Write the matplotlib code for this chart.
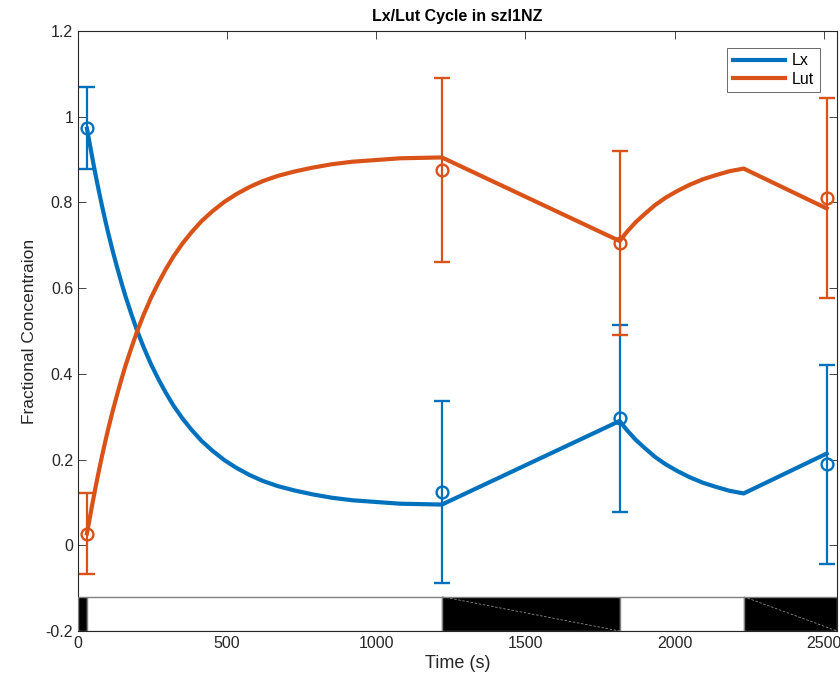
import matplotlib
matplotlib.use('Agg')
import matplotlib.pyplot as plt
from matplotlib.patches import Rectangle

plt.rcParams['font.family'] = ['Liberation Sans', 'DejaVu Sans']
plt.rcParams['axes.unicode_minus'] = False

# model curves (s, fraction)
t_model = [30, 40, 50, 60, 70, 80, 90, 100, 115, 130, 145, 160, 180, 198, 220,
           245, 270, 295, 320, 350, 380, 415, 450, 490, 530, 575, 620, 670, 725,
           785, 850, 920, 1000, 1080, 1150, 1220,
           1816, 1840, 1870, 1900, 1935, 1970, 2010, 2050, 2095, 2140, 2185, 2232,
           2510]
lx_model = [0.972, 0.934, 0.896, 0.860, 0.826, 0.793, 0.762, 0.732, 0.690, 0.651,
            0.614, 0.579, 0.537, 0.501, 0.462, 0.422, 0.387, 0.355, 0.326, 0.296,
            0.270, 0.243, 0.221, 0.199, 0.181, 0.164, 0.150, 0.138, 0.128, 0.119,
            0.111, 0.105, 0.101, 0.097, 0.096, 0.095,
            0.290, 0.269, 0.246, 0.227, 0.206, 0.189, 0.173, 0.159, 0.146, 0.136,
            0.127, 0.121,
            0.214]
lut_model = [0.028, 0.066, 0.104, 0.140, 0.174, 0.207, 0.238, 0.268, 0.310, 0.349,
             0.386, 0.421, 0.463, 0.499, 0.538, 0.578, 0.613, 0.645, 0.674, 0.704,
             0.730, 0.757, 0.779, 0.801, 0.819, 0.836, 0.850, 0.862, 0.872, 0.881,
             0.889, 0.895, 0.899, 0.903, 0.904, 0.905,
             0.710, 0.731, 0.754, 0.773, 0.794, 0.811, 0.827, 0.841, 0.854, 0.864,
             0.873, 0.879,
             0.786]

# measured points with error bars
t_obs = [30, 1220, 1816, 2510]
lx_obs = [0.973, 0.124, 0.296, 0.189]
lx_err = [0.096, 0.213, 0.218, 0.232]
lut_obs = [0.027, 0.875, 0.705, 0.810]
lut_err = [0.095, 0.215, 0.215, 0.233]

# light/dark schedule shown along the bottom
phase_edges = [0, 30, 1220, 1816, 2232, 2545]
phase_dark = [True, False, True, False, True]

blue = '#0072BD'
orange = '#D95319'
axcol = '#262626'

fig = plt.figure(figsize=(8.4, 6.89), dpi=100)
ax = fig.add_axes([0.0929, 0.0842, 0.9036, 0.8708])

ax.plot(t_model, lx_model, color=blue, lw=3, label='Lx', solid_joinstyle='miter')
ax.plot(t_model, lut_model, color=orange, lw=3, label='Lut', solid_joinstyle='miter')
ax.errorbar(t_obs, lx_obs, yerr=lx_err, fmt='o', color=blue, mfc='none',
            ms=8.5, mew=1.7, elinewidth=1.6, capsize=5.5, capthick=1.6)
ax.errorbar(t_obs, lut_obs, yerr=lut_err, fmt='o', color=orange, mfc='none',
            ms=8.5, mew=1.7, elinewidth=1.6, capsize=5.5, capthick=1.6)

band_lo, band_hi = -0.2, -0.12
for i, dark in enumerate(phase_dark):
    x0, x1 = phase_edges[i], phase_edges[i + 1]
    ax.add_patch(Rectangle((x0, band_lo), x1 - x0, band_hi - band_lo,
                           facecolor='black' if dark else 'white',
                           edgecolor='#808080', lw=1, zorder=3))
    if dark and i > 0:
        ax.plot([x0, x1], [band_hi, band_lo], color='#8c8c8c', lw=0.6,
                ls=(0, (3, 2)), zorder=4)

ax.set_xlim(0, 2545)
ax.set_ylim(-0.2, 1.2)
ax.set_xticks([0, 500, 1000, 1500, 2000, 2500])
ax.set_yticks([-0.2, 0, 0.2, 0.4, 0.6, 0.8, 1, 1.2])
ax.set_yticklabels(['-0.2', '0', '0.2', '0.4', '0.6', '0.8', '1', '1.2'])
ax.tick_params(direction='in', length=6, width=0.6, top=True, right=True,
               colors=axcol, labelsize=11.5)
for s in ax.spines.values():
    s.set_color(axcol)
    s.set_linewidth(0.8)

ax.set_title('Lx/Lut Cycle in szl1NZ', fontsize=11.5, fontweight='bold', pad=7)
ax.set_xlabel('Time (s)', fontsize=13, color=axcol, labelpad=3)
ax.set_ylabel('Fractional Concentraion', fontsize=12.5, color=axcol, labelpad=6)

leg = ax.legend(loc='upper right', bbox_to_anchor=(0.977, 0.972), fontsize=11.5,
                fancybox=False, edgecolor=axcol, handlelength=3.3,
                borderpad=0.35, labelspacing=0.2, handletextpad=0.4,
                borderaxespad=0)
leg.get_frame().set_linewidth(0.6)

fig.savefig('out.png', dpi=100)
